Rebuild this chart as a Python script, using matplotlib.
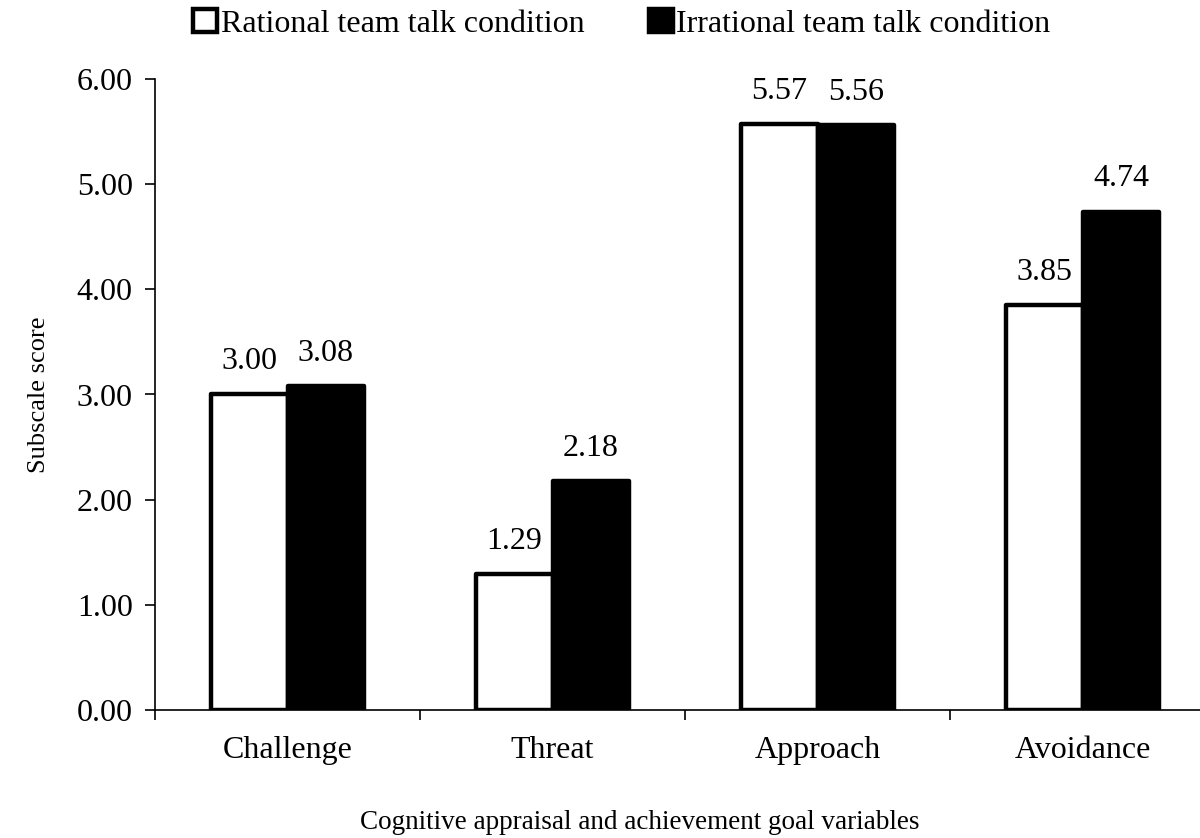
import matplotlib.pyplot as plt
import numpy as np

# Dane
categories = ["Challenge", "Threat", "Approach", "Avoidance"]
rational = [3.00, 1.29, 5.57, 3.85]
irrational = [3.08, 2.18, 5.56, 4.74]
series_names = ["Rational team talk condition", "Irrational team talk condition"]
y_ticks = [0, 1, 2, 3, 4, 5, 6]

plt.rcParams['font.family'] = ['Liberation Serif', 'DejaVu Serif']

fig = plt.figure(figsize=(12, 8.38), dpi=100)
ax = fig.add_axes([155 / 1200, 1 - 710 / 838, 1060 / 1200, (710 - 79) / 838])

x = np.arange(len(categories))
w = 0.29
lw = 3.2
b1 = ax.bar(x - w / 2, rational, w, color='white', edgecolor='black',
            linewidth=lw, joinstyle='round', label=series_names[0], zorder=3)
b2 = ax.bar(x + w / 2, irrational, w, color='black', edgecolor='black',
            linewidth=lw, joinstyle='round', label=series_names[1], zorder=3)

for bars, vals in ((b1, rational), (b2, irrational)):
    for bar, v in zip(bars, vals):
        ax.annotate(f"{v:.2f}", (bar.get_x() + bar.get_width() / 2, v),
                    xytext=(0, 13), textcoords='offset points',
                    ha='center', va='bottom', fontsize=23)

ax.set_xlim(-0.5, len(categories) - 0.5)
ax.set_ylim(0, 6)
ax.set_yticks(y_ticks)
ax.set_yticklabels([f"{t:.2f}" for t in y_ticks])
ax.set_xticks(np.arange(len(categories) + 1) - 0.5)
ax.set_xticklabels([])
ax.set_xticks(x, minor=True)
ax.set_xticklabels(categories, minor=True)
ax.tick_params(axis='x', which='minor', length=0, pad=19, labelsize=23)
ax.tick_params(axis='x', which='major', length=7, width=1.2, direction='out')
ax.tick_params(axis='y', length=7, width=1.2, direction='out', pad=9, labelsize=23)

for s in ('top', 'right'):
    ax.spines[s].set_visible(False)
ax.spines['left'].set_linewidth(1.2)
ax.spines['bottom'].set_linewidth(1.2)

ax.set_ylabel("Subscale score", fontsize=19)
ax.yaxis.set_label_coords(-105 / 1060, 0.5)
fig.text(640 / 1200, 1 - 822 / 838, "Cognitive appraisal and achievement goal variables",
         ha='center', va='center', fontsize=19.5)

fig.legend(loc='center', bbox_to_anchor=(622 / 1200, 1 - 24 / 838), ncol=2,
           frameon=False, fontsize=23, handlelength=0.75, handleheight=0.75,
           handletextpad=0.12, columnspacing=2.0)

fig.savefig("out.png", dpi=100)
